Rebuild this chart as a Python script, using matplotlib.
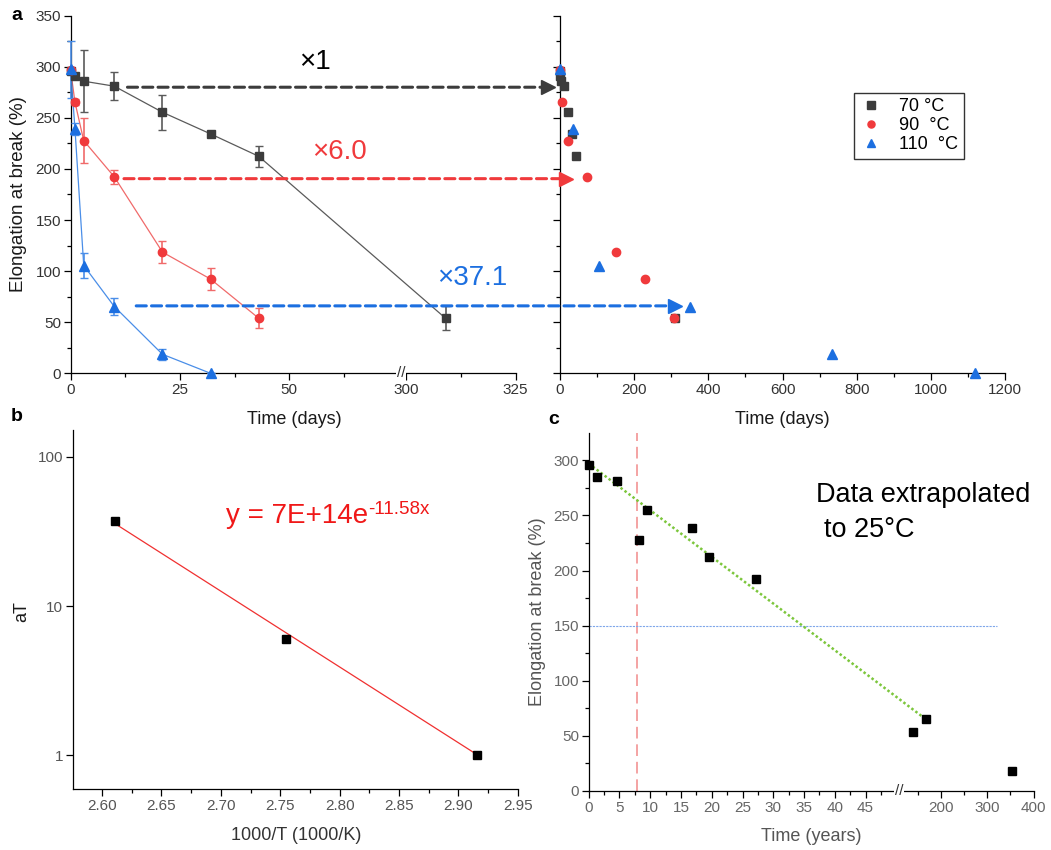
import numpy as np
import matplotlib
matplotlib.use('Agg')
import matplotlib.pyplot as plt
from matplotlib.patches import ConnectionPatch
from matplotlib.ticker import FixedLocator, NullFormatter
import matplotlib.transforms as mtransforms

plt.rcParams['font.family'] = ['Liberation Sans', 'DejaVu Sans']

# ---------------- data: panel a ----------------
days_70 = [0, 1, 3, 10, 21, 32, 43, 309]
eab_70 = [296, 290.8, 285.9, 281, 255.5, 234.3, 212.4, 53.9]
err_70 = [0, 3, 30.5, 13.5, 17, 3, 10, 12]
days_90 = [0, 1, 3, 10, 21, 32, 43]
eab_90 = [297, 265.3, 227.7, 192.2, 118.6, 92.2, 53.9]
err_90 = [0, 3, 22, 7, 10.5, 11, 10]
days_110 = [0, 1, 3, 10, 21, 32]
eab_110 = [297.4, 239.2, 105.5, 65.3, 18.6, 0]
err_110 = [28, 6, 12.5, 8, 5.5, 0]

# shifted (master curve) times, right part of panel a
shift_days_70 = [0, 1, 3, 10, 21, 32, 43, 309]
shift_days_90 = [0, 6.3, 22.4, 72.8, 151, 230, 308]
shift_days_110 = [0, 35, 104, 350, 734, 1119]
shift_labels = ['×1', '×6.0', '×37.1']
legend_labels = ['70 °C', '90  °C', '110  °C']

# ---------------- data: panel b ----------------
inv_T = [2.6105, 2.7545, 2.9153]
a_T = [37.3, 5.98, 1.0]
fit_inv_T = [2.6105, 2.9140]
fit_a_T = [35.8, 1.03]
fit_base = 'y = 7E+14e'
fit_exp = '-11.58x'

# ---------------- data: panel c ----------------
years_25 = [0, 1.27, 4.52, 8.1, 9.48, 16.8, 19.56, 27.2, 138.9, 168.2, 354.5]
eab_25 = [296, 284.9, 280.9, 228, 255.2, 238.9, 211.9, 192.3, 53.6, 65.1, 18.5]
trend_years = [0, 161]
trend_eab = [297, 67]
threshold_years = [0, 320.7]
threshold_eab = [150, 150]
marker_year = 7.82

BLACK = '#3c3c3c'
BLACK_LINE = '#5a5a5a'
RED = '#f03a3c'
RED_LINE = '#f06a6a'
BLUE = '#1c6fe0'
BLUE_LINE = '#4a8ee8'


def make_break(b1, b2, ratio):
    def fwd(x):
        x = np.asarray(x, dtype=float)
        return np.where(x <= b1, x, np.where(x >= b2, b1 + (x - b2) * ratio, b1))

    def inv(y):
        y = np.asarray(y, dtype=float)
        return np.where(y <= b1, y, b2 + (y - b1) / ratio)
    return fwd, inv


W, H = 1051, 850
fig = plt.figure(figsize=(W / 100, H / 100), dpi=100)


def rect(l, r, t, b):
    return [l / W, 1 - b / H, (r - l) / W, (b - t) / H]


def style_axis(ax, color):
    for s in ['top', 'right']:
        ax.spines[s].set_visible(False)
    for s in ['left', 'bottom']:
        ax.spines[s].set_linewidth(0.9)
    ax.tick_params(which='major', direction='out', length=5, width=0.9,
                   labelsize=11, labelcolor=color, pad=2)
    ax.tick_params(which='minor', direction='out', length=3, width=0.9)


# ---------------- panel a left ----------------
axl = fig.add_axes(rect(70.6, 515.5, 15.7, 373.3))
fa, ia = make_break(75.5, 298.8, 1.0)
axl.set_xscale('function', functions=(fa, ia))
axl.set_xlim(0, 325)
axl.set_ylim(0, 350)
style_axis(axl, '#333333')
axl.xaxis.set_major_locator(FixedLocator([0, 25, 50, 300, 325]))
axl.xaxis.set_minor_locator(FixedLocator([12.5, 37.5, 62.5, 312.5]))
axl.xaxis.set_minor_formatter(NullFormatter())
axl.yaxis.set_major_locator(FixedLocator(np.arange(0, 351, 50)))
axl.yaxis.set_minor_locator(FixedLocator(np.arange(25, 350, 50)))

for d, v, e, c, lc, m, ms in [(days_70, eab_70, err_70, BLACK, BLACK_LINE, 's', 6),
                              (days_90, eab_90, err_90, RED, RED_LINE, 'o', 6),
                              (days_110, eab_110, err_110, BLUE, BLUE_LINE, '^', 7)]:
    axl.plot(d, v, '-', color=lc, lw=0.9, clip_on=False, zorder=2)
    cont = axl.errorbar(d, v, yerr=e, fmt=m, ms=ms, mfc=c, mec=c, ecolor=lc,
                        elinewidth=1.2, capsize=3, capthick=1.0, zorder=3)
    for art in cont.get_children():
        art.set_clip_on(False)

brk = mtransforms.blended_transform_factory(axl.transData, axl.transAxes)
axl.text(75.5, 0, '//', transform=brk, ha='center', va='center', fontsize=11,
         color='#333333', bbox=dict(fc='white', ec='none', pad=0.5), zorder=5)

# ---------------- panel a right ----------------
axr = fig.add_axes(rect(560, 1005, 15.7, 373.3))
axr.set_xlim(0, 1200)
axr.set_ylim(0, 350)
style_axis(axr, '#333333')
axr.xaxis.set_major_locator(FixedLocator(np.arange(0, 1201, 200)))
axr.xaxis.set_minor_locator(FixedLocator(np.arange(100, 1200, 200)))
axr.xaxis.set_minor_formatter(NullFormatter())
axr.yaxis.set_major_locator(FixedLocator(np.arange(0, 351, 50)))
axr.yaxis.set_minor_locator(FixedLocator(np.arange(25, 350, 50)))
axr.yaxis.set_major_formatter(NullFormatter())

h70, = axr.plot(shift_days_70, eab_70, 's', ms=6, color=BLACK, clip_on=False, zorder=3)
h90, = axr.plot(shift_days_90, eab_90, 'o', ms=6, color=RED, clip_on=False, zorder=3)
h110, = axr.plot(shift_days_110, eab_110, '^', ms=7, color=BLUE, clip_on=False, zorder=3)
leg = axr.legend([h70, h90, h110], legend_labels, loc='upper left',
                 bbox_to_anchor=(854 / W, 1 - 92.7 / H), bbox_transform=fig.transFigure,
                 borderaxespad=0, fontsize=13, frameon=True, fancybox=False,
                 edgecolor='black', handletextpad=0.9, labelspacing=0.12,
                 borderpad=0.3, handlelength=1.3, markerscale=0.85)
leg.get_frame().set_linewidth(1.0)

# shift arrows
dash = (0, (3.3, 1.7))
for (x0, y0, x1), col, tcol, lab, (tx, ty) in zip(
        [(13, 280, -32), (12.2, 190.5, 17), (15, 66, 311)],
        [BLACK, RED, BLUE], ['black', RED, BLUE], shift_labels,
        [(299, 62), (311.6, 152), (437, 278)]):
    con = ConnectionPatch(xyA=(x0, y0), coordsA=axl.transData,
                          xyB=(x1, y0), coordsB=axr.transData,
                          arrowstyle='-', color=col, lw=2.2, linestyle=dash, zorder=4)
    fig.add_artist(con)
    axr.plot([x1], [y0], marker='>', ms=10.5, color=col, clip_on=False, zorder=4)
    fig.text(tx / W, 1 - ty / H, lab, color=tcol, fontsize=20, ha='left', va='center')

fig.text(19 / W, 1 - 194 / H, 'Elongation at break (%)', rotation=90, fontsize=13.5,
         ha='center', va='center', color='#1a1a1a')
fig.text(294 / W, 1 - 419 / H, 'Time (days)', fontsize=13, ha='center', va='center', color='#1a1a1a')
fig.text(782 / W, 1 - 419 / H, 'Time (days)', fontsize=13, ha='center', va='center', color='#1a1a1a')
fig.text(16.5 / W, 1 - 15 / H, 'a', fontsize=14, fontweight='bold', ha='center', va='center')

# ---------------- panel b ----------------
axb = fig.add_axes(rect(72.7, 517.9, 430, 789))
axb.set_yscale('log')
axb.set_xlim(2.5753, 2.95)
axb.set_ylim(0.595, 151)
style_axis(axb, '#555555')
axb.xaxis.set_major_locator(FixedLocator(np.round(np.arange(2.60, 2.951, 0.05), 2)))
axb.xaxis.set_minor_locator(FixedLocator(np.arange(2.575, 2.95, 0.05)))
axb.xaxis.set_minor_formatter(NullFormatter())
axb.xaxis.set_major_formatter(matplotlib.ticker.FormatStrFormatter('%.2f'))
axb.yaxis.set_major_locator(FixedLocator([1, 10, 100]))
axb.yaxis.set_major_formatter(matplotlib.ticker.FixedFormatter(['1', '10', '100']))
axb.yaxis.set_minor_locator(FixedLocator([]))
axb.plot(fit_inv_T, fit_a_T, '-', color='#f03030', lw=0.9, zorder=2)
axb.plot(inv_T, a_T, 's', ms=6, color='black', zorder=3, clip_on=False)
t_eq = fig.text(225.8 / W, 1 - 523 / H, fit_base, color='#f01818', fontsize=20,
                ha='left', va='baseline')
fig.canvas.draw()
bb = t_eq.get_window_extent()
fig.text((bb.x1 + 0.5) / W, 1 - 514.5 / H, fit_exp, color='#f01818', fontsize=13.5,
         ha='left', va='baseline')
fig.text(22 / W, 1 - 611.7 / H, 'aT', rotation=90, fontsize=13, ha='center', va='center',
         color='#1a1a1a')
fig.text(295.8 / W, 1 - 835 / H, '1000/T (1000/K)', fontsize=13, ha='center', va='center',
         color='#333333')
fig.text(17 / W, 1 - 416.7 / H, 'b', fontsize=14, fontweight='bold', ha='center', va='center')

# ---------------- panel c ----------------
axc = fig.add_axes(rect(588.7, 1033.5, 432.7, 791))
fc, ic = make_break(50.5, 109.7, 0.0751)
axc.set_xscale('function', functions=(fc, ic))
axc.set_xlim(0, 400)
axc.set_ylim(0, 325)
style_axis(axc, '#666666')
axc.xaxis.set_major_locator(FixedLocator(list(range(0, 46, 5)) + [200, 300, 400]))
axc.xaxis.set_minor_locator(FixedLocator(list(np.arange(2.5, 50, 5)) + [150, 250, 350]))
axc.xaxis.set_minor_formatter(NullFormatter())
axc.yaxis.set_major_locator(FixedLocator(np.arange(0, 301, 50)))
axc.yaxis.set_minor_locator(FixedLocator(np.arange(25, 325, 50)))
axc.axvline(marker_year, color='#f4a3a3', lw=1.4, linestyle=(0, (6, 3)), zorder=1)
axc.plot(threshold_years, threshold_eab, color='#7ea6ea', lw=0.8, linestyle=(0, (2, 1)), zorder=1)
axc.plot(trend_years, trend_eab, color='#7cc63c', lw=1.8, linestyle=(0, (1, 1)), zorder=2)
axc.plot(years_25, eab_25, 's', ms=6, color='black', zorder=3, clip_on=False)
brkc = mtransforms.blended_transform_factory(axc.transData, axc.transAxes)
axc.text(50.5, 0, '//', transform=brkc, ha='center', va='center', fontsize=11,
         color='#333333', bbox=dict(fc='white', ec='none', pad=0.5), zorder=5)
fig.text(816.3 / W, 1 - 495 / H, 'Data extrapolated', fontsize=19.5, ha='left', va='center')
fig.text(823.8 / W, 1 - 530 / H, 'to 25°C', fontsize=19.5, ha='left', va='center')
fig.text(537 / W, 1 - 611.7 / H, 'Elongation at break (%)', rotation=90, fontsize=13,
         ha='center', va='center', color='#555555')
fig.text(811 / W, 1 - 836.7 / H, 'Time (years)', fontsize=13, ha='center', va='center',
         color='#555555')
fig.text(553.5 / W, 1 - 419 / H, 'c', fontsize=14, fontweight='bold', ha='center', va='center')

fig.savefig('out.png', dpi=100)
